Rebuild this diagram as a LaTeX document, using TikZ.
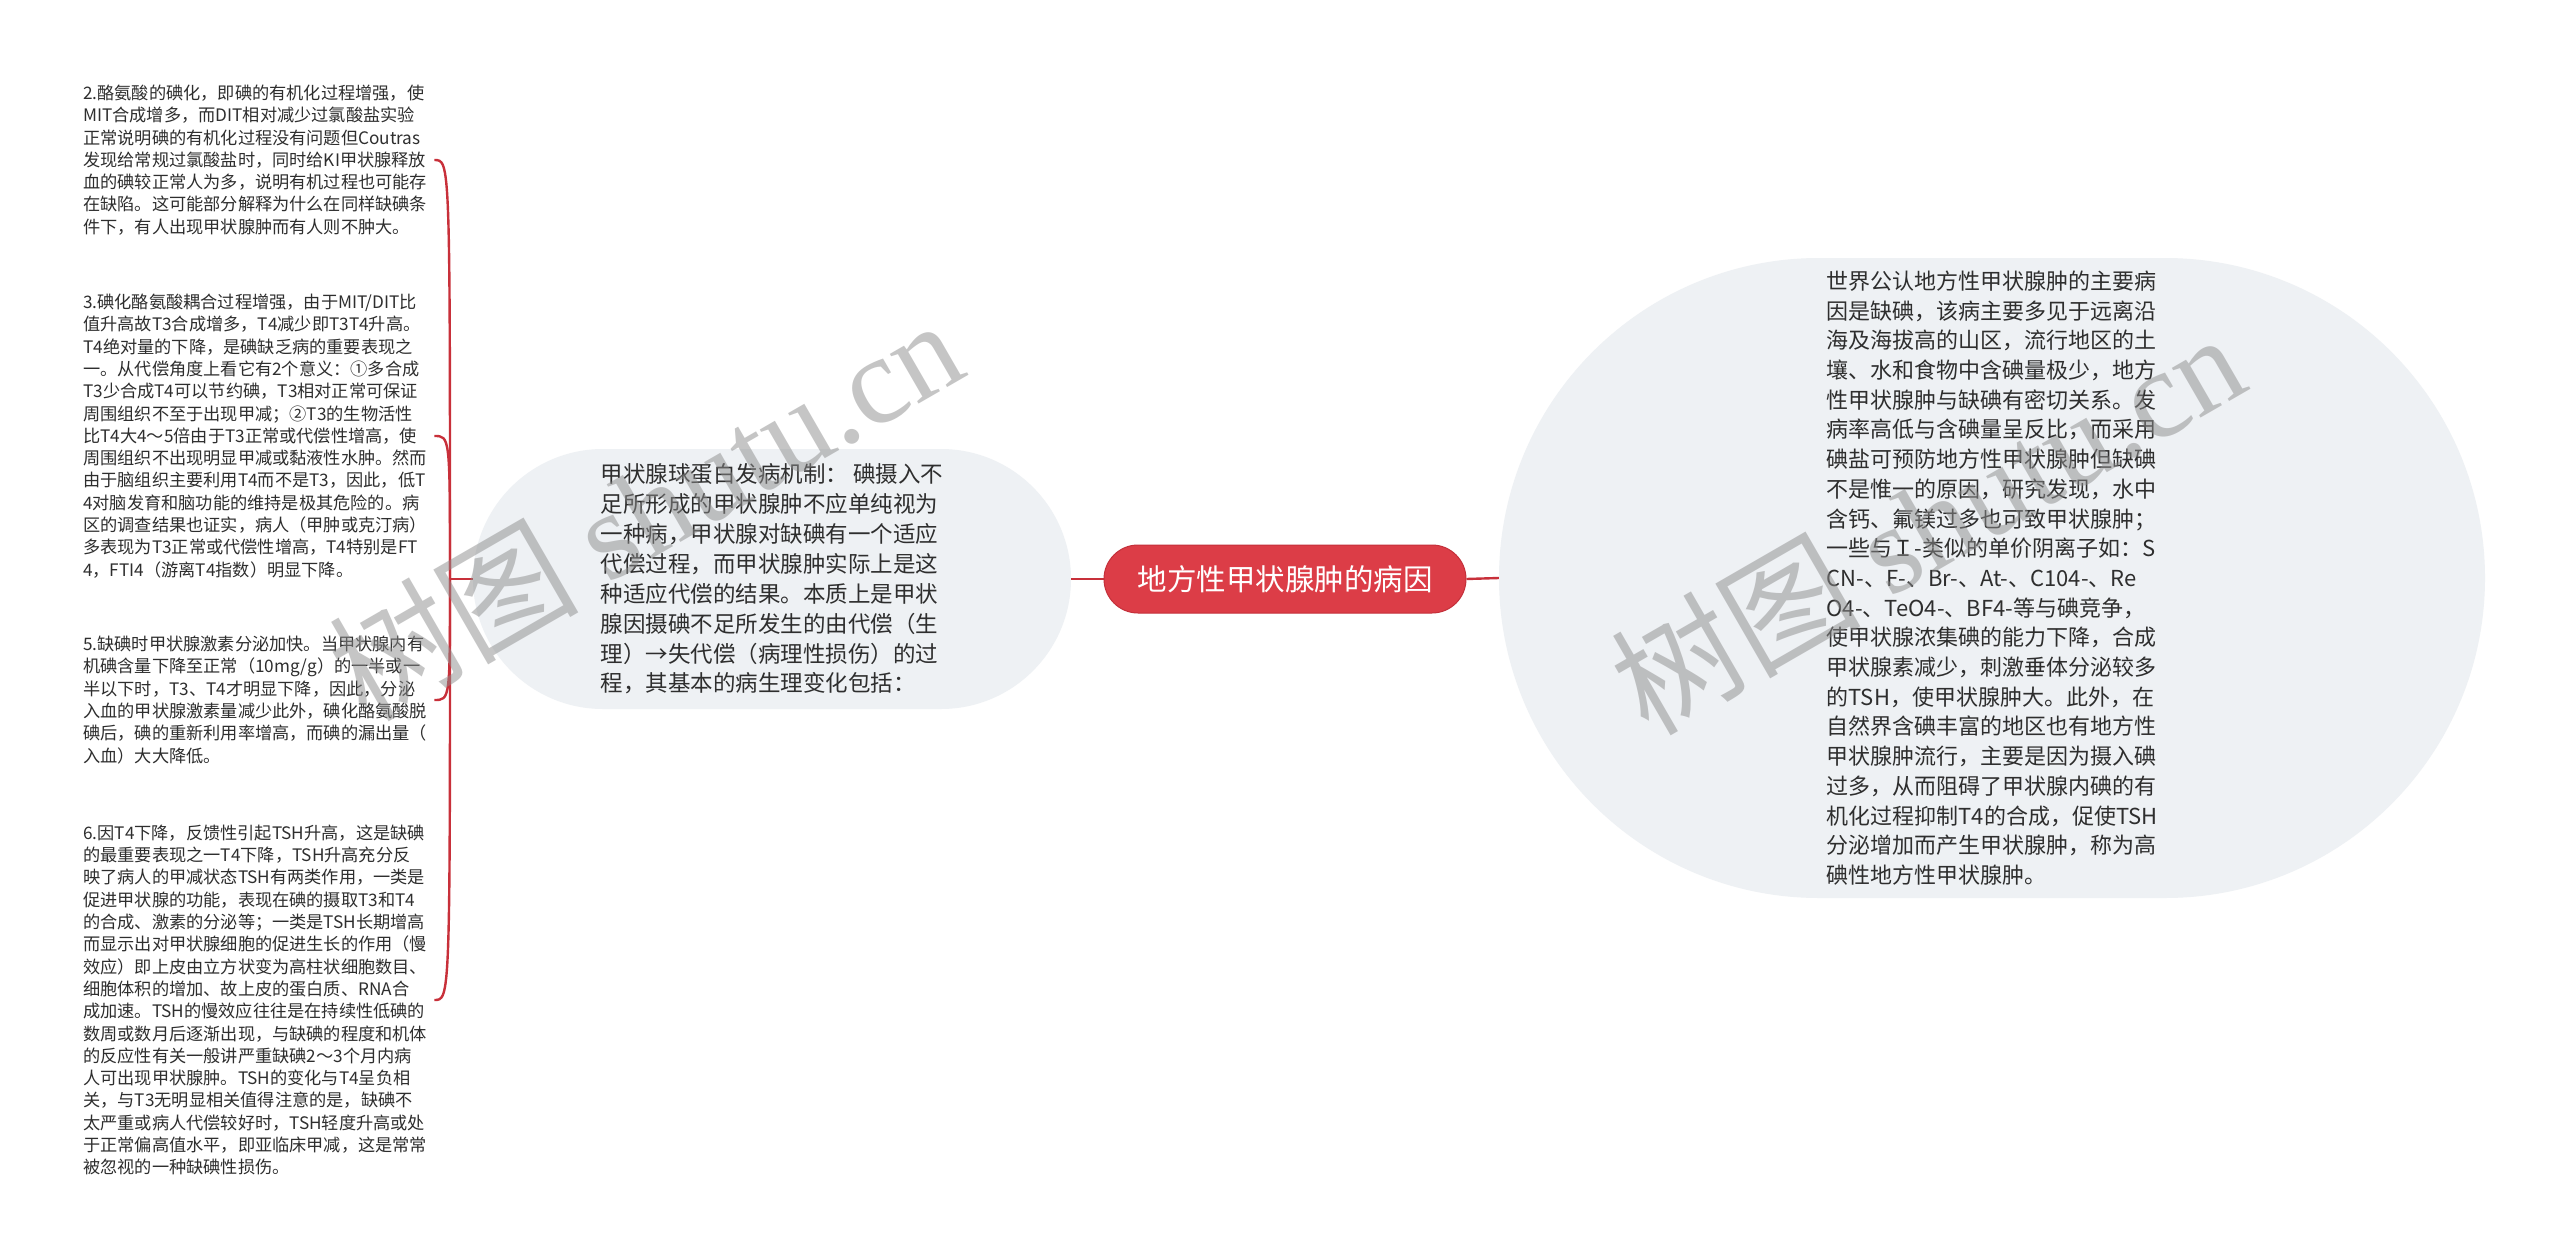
\documentclass[tikz,border=0pt]{standalone}
\usepackage{fontspec}
\setmainfont{Noto Sans CJK SC}
\newfontfamily\wmlat{Liberation Serif}
\definecolor{redfill}{HTML}{DC3D47}
\definecolor{redborder}{HTML}{C4303A}
\definecolor{redline}{HTML}{C8303A}
\definecolor{palefill}{HTML}{EEF1F4}
\definecolor{txt}{HTML}{2E2E2E}
\begin{document}
\begin{tikzpicture}[x=1pt,y=-1pt,
  link/.style={draw=redline,line width=2.4pt},
  leaf/.style={anchor=west,align=left,text width=349pt,inner xsep=2pt,inner ysep=0pt,
    font=\fontsize{17.2}{22.3}\selectfont,text=txt},
  rootbox/.style={fill=redfill,draw=redborder,line width=1pt,rounded corners=34pt,
    minimum width=362pt,minimum height=68pt,text=white,inner sep=0pt,
    font=\fontsize{29.5}{34}\selectfont},
  midbox/.style={fill=palefill,rounded corners=130pt,minimum width=598pt,minimum height=260pt,
    align=left,inner sep=0pt,text=txt,font=\fontsize{22.5}{29.9}\selectfont},
  rightbox/.style={fill=palefill,rounded corners=320pt,minimum width=986pt,minimum height=640pt,
    align=left,inner sep=0pt,text=txt,font=\fontsize{22}{29.7}\selectfont},
  wm/.style={text=black!45,text opacity=0.5,inner sep=0pt,rotate=30,
    font=\fontsize{125}{130}\selectfont}
]
\useasboundingbox (0,0) rectangle (2560,1258);
\fill[white] (0,0) rectangle (2560,1258);

\node[rootbox] (root) at (1285,579) {地方性甲状腺肿的病因};

\node[midbox] (mid) at (772,579) {甲状腺球蛋白发病机制： 碘摄入不\\
足所形成的甲状腺肿不应单纯视为\\
一种病，甲状腺对缺碘有一个适应\\
代偿过程，而甲状腺肿实际上是这\\
种适应代偿的结果。本质上是甲状\\
腺因摄碘不足所发生的由代偿（生\\
理）→失代偿（病理性损伤）的过\\
程，其基本的病生理变化包括：};

\node[rightbox] (right) at (1992,578) {世界公认地方性甲状腺肿的主要病\\
因是缺碘，该病主要多见于远离沿\\
海及海拔高的山区，流行地区的土\\
壤、水和食物中含碘量极少，地方\\
性甲状腺肿与缺碘有密切关系。发\\
病率高低与含碘量呈反比，而采用\\
碘盐可预防地方性甲状腺肿但缺碘\\
不是惟一的原因，研究发现，水中\\
含钙、氟镁过多也可致甲状腺肿；\\
一些与Ｉ-类似的单价阴离子如：S\\
CN-、F-、Br-、At-、C104-、Re\\
O4-、TeO4-、BF4-等与碘竞争，\\
使甲状腺浓集碘的能力下降，合成\\
甲状腺素减少，刺激垂体分泌较多\\
的TSH，使甲状腺肿大。此外，在\\
自然界含碘丰富的地区也有地方性\\
甲状腺肿流行，主要是因为摄入碘\\
过多，从而阻碍了甲状腺内碘的有\\
机化过程抑制T4的合成，促使TSH\\
分泌增加而产生甲状腺肿，称为高\\
碘性地方性甲状腺肿。};

\node[leaf] (b2) at (81,160) {2.酪氨酸的碘化，即碘的有机化过程增强，使\\
MIT合成增多，而DIT相对减少过氯酸盐实验\\
正常说明碘的有机化过程没有问题但Coutras\\
发现给常规过氯酸盐时，同时给KI甲状腺释放\\
血的碘较正常人为多，说明有机过程也可能存\\
在缺陷。这可能部分解释为什么在同样缺碘条\\
件下，有人出现甲状腺肿而有人则不肿大。};

\node[leaf] (b3) at (81,436) {3.碘化酪氨酸耦合过程增强，由于MIT/DIT比\\
值升高故T3合成增多，T4减少即T3T4升高。\\
T4绝对量的下降，是碘缺乏病的重要表现之\\
一。从代偿角度上看它有2个意义：①多合成\\
T3少合成T4可以节约碘，T3相对正常可保证\\
周围组织不至于出现甲减；②T3的生物活性\\
比T4大4～5倍由于T3正常或代偿性增高，使\\
周围组织不出现明显甲减或黏液性水肿。然而\\
由于脑组织主要利用T4而不是T3，因此，低T\\
4对脑发育和脑功能的维持是极其危险的。病\\
区的调查结果也证实，病人（甲肿或克汀病）\\
多表现为T3正常或代偿性增高，T4特别是FT\\
4，FTI4（游离T4指数）明显下降。};

\node[leaf] (b5) at (81,700) {5.缺碘时甲状腺激素分泌加快。当甲状腺内有\\
机碘含量下降至正常（10mg/g）的一半或一\\
半以下时，T3、T4才明显下降，因此，分泌\\
入血的甲状腺激素量减少此外，碘化酪氨酸脱\\
碘后，碘的重新利用率增高，而碘的漏出量（\\
入血）大大降低。};

\node[leaf] (b6) at (81,1000) {6.因T4下降，反馈性引起TSH升高，这是缺碘\\
的最重要表现之一T4下降，TSH升高充分反\\
映了病人的甲减状态TSH有两类作用，一类是\\
促进甲状腺的功能，表现在碘的摄取T3和T4\\
的合成、激素的分泌等；一类是TSH长期增高\\
而显示出对甲状腺细胞的促进生长的作用（慢\\
效应）即上皮由立方状变为高柱状细胞数目、\\
细胞体积的增加、故上皮的蛋白质、RNA合\\
成加速。TSH的慢效应往往是在持续性低碘的\\
数周或数月后逐渐出现，与缺碘的程度和机体\\
的反应性有关一般讲严重缺碘2～3个月内病\\
人可出现甲状腺肿。TSH的变化与T4呈负相\\
关，与T3无明显相关值得注意的是，缺碘不\\
太严重或病人代偿较好时，TSH轻度升高或处\\
于正常偏高值水平，即亚临床甲减，这是常常\\
被忽视的一种缺碘性损伤。};

\draw[link] (root.west) -- (mid.east);
\draw[link] (root.east) -- (right.west);
\coordinate (J) at (450,579);
\draw[link] (mid.west) -- (J);
\draw[link] (J) .. controls (J |- b2.east) .. (b2.east);
\draw[link] (J) .. controls (J |- b3.east) .. (b3.east);
\draw[link] (J) .. controls (J |- b5.east) .. (b5.east);
\draw[link] (J) .. controls (J |- b6.east) .. (b6.east);

\node[wm] (wm1) at (645,508) {树图 {\wmlat shutu.cn}};
\node[wm] (wm2) at (1927,522) {树图 {\wmlat shutu.cn}};
\end{tikzpicture}
\end{document}
